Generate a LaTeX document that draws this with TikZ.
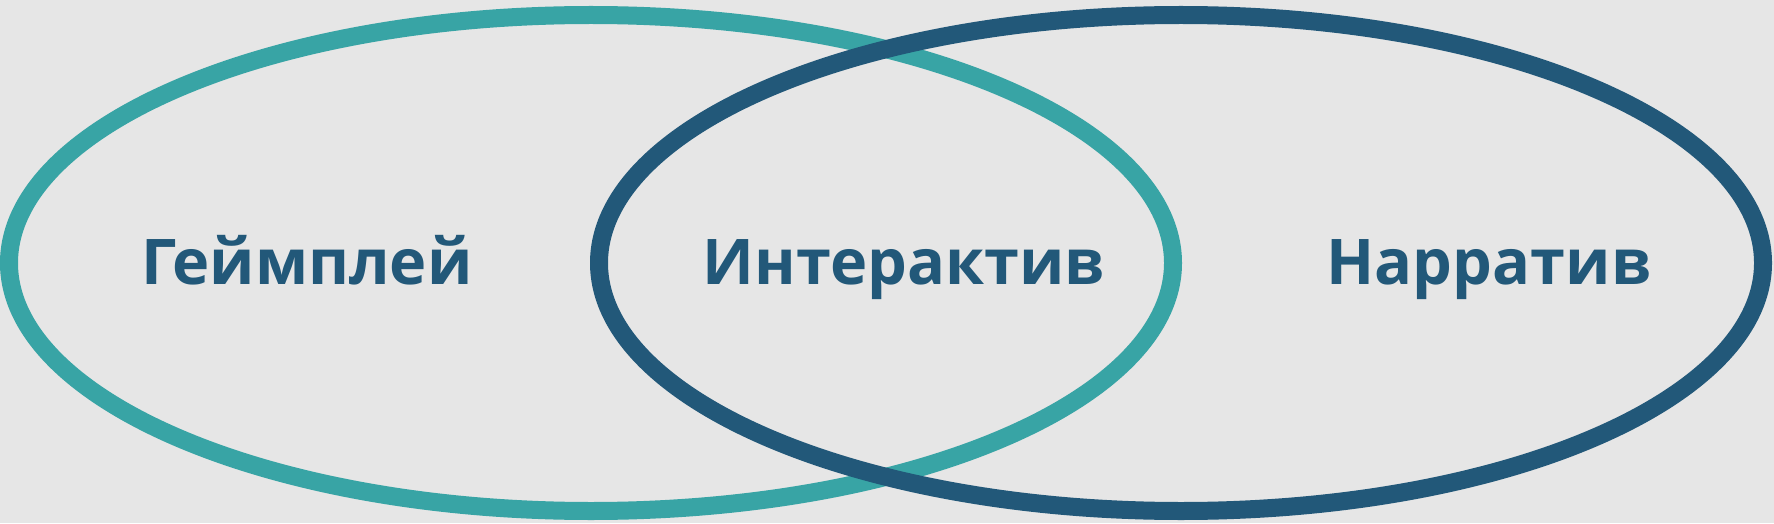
\documentclass[tikz,border=0pt]{standalone}
\usepackage{fontspec}
\setmainfont{Open Sans}
\usepackage{tikz}
\usetikzlibrary{shapes}
\definecolor{bggray}{HTML}{E6E6E6}
\definecolor{gameteal}{HTML}{38A4A5}
\definecolor{narrblue}{HTML}{225879}
\begin{document}
\begin{tikzpicture}[x=1pt,y=1pt,inner sep=0pt]
\tikzstyle{every node}=[text=narrblue,font=\bfseries\fontsize{63}{63}\selectfont]
\tikzstyle{circ}=[draw,ellipse,line width=18pt,minimum width=1164pt,minimum height=496pt]
\fill[bggray] (0,0) rectangle (1774,523);
\useasboundingbox (0,0) rectangle (1774,523);
% the two sets
\node[circ,draw=gameteal] (game) at (591,260) {};
\node[circ,draw=narrblue] (narr) at (1181,260) {};
% labels
\node[anchor=base] (gamelbl) at (307,238.5) {Геймплей};
\node[anchor=base] (interlbl) at (904,238.5) {Интерактив};
\node[anchor=base] (narrlbl) at (1489,238.5) {Нарратив};
\end{tikzpicture}
\end{document}
